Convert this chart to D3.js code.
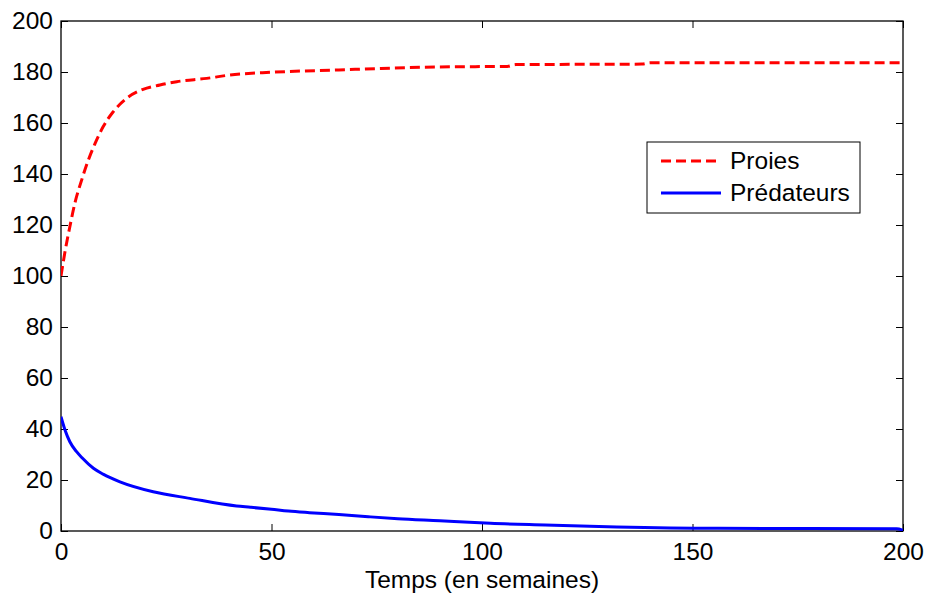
<!DOCTYPE html>
<html>
<head>
<meta charset="utf-8">
<script src="https://cdn.jsdelivr.net/npm/d3@7"></script>
<style>
  body { margin: 0; background: #fff; }
  svg text { font-family: "Liberation Sans", Arial, sans-serif; fill: #000; }
</style>
</head>
<body>
<svg id="chart"></svg>
<script>
// values
const tProies = [0, 1, 2.1, 3.3, 4.9, 6.5, 8.1, 10, 12.4, 15.6, 19.5, 23.5, 27.5, 34.6, 40, 50, 66, 76, 90, 106, 108, 138, 140, 200];
const proies = [100, 110, 119.3, 128.6, 137.6, 145.5, 152, 158.5, 164.4, 169.7, 173.2, 174.9, 176.2, 177.5, 178.8, 179.9, 180.8, 181.4, 182, 182.2, 182.9, 183.1, 183.6, 183.6];

const tPredateurs = [0, 0.95, 2.1, 3.7, 5, 7.7, 10, 14, 21.9, 30.6, 41.7, 45, 50, 54, 59, 66, 73, 80, 90, 97, 102, 115, 132, 156, 198.5, 200];
const predateurs = [44.8, 39.6, 35, 31.1, 28.7, 24.6, 22.3, 19.3, 15.4, 12.8, 9.8, 9.3, 8.5, 7.8, 7.2, 6.5, 5.6, 4.8, 4, 3.4, 3.0, 2.35, 1.6, 1.05, 0.9, 0.3];

const xTicks = [0, 50, 100, 150, 200];
const yTicks = [0, 20, 40, 60, 80, 100, 120, 140, 160, 180, 200];
const seriesNames = ["Proies", "Prédateurs"];
const xLabel = "Temps (en semaines)";

const width = 928, height = 599;
const margin = {left: 61, right: 25, top: 21, bottom: 68};
const plotW = width - margin.left - margin.right;
const plotH = height - margin.top - margin.bottom;

const svg = d3.select("#chart").attr("width", width).attr("height", height);

const xScale = d3.scaleLinear().domain([0, 200]).range([0, plotW]);
const yScale = d3.scaleLinear().domain([0, 200]).range([plotH, 0]);

const g = svg.append("g").attr("transform", `translate(${margin.left},${margin.top})`);

g.append("clipPath").attr("id", "clip")
  .append("rect").attr("width", plotW).attr("height", plotH);

// axes, ticks inside like matlab
const fontSize = 24.5;
const xAxis = d3.axisBottom(xScale).tickValues(xTicks).tickSize(-7).tickPadding(12);
const yAxis = d3.axisLeft(yScale).tickValues(yTicks).tickSize(-7).tickPadding(8);
const xAxisTop = d3.axisTop(xScale).tickValues(xTicks).tickSize(-7).tickFormat("");
const yAxisRight = d3.axisRight(yScale).tickValues(yTicks).tickSize(-7).tickFormat("");

const styleAxis = sel => {
  sel.select(".domain").remove();
  sel.selectAll("line").attr("stroke", "#000");
  sel.selectAll("text").style("font-size", fontSize + "px")
    .style("font-family", "'Liberation Sans', Arial, sans-serif");
};

g.append("g").attr("transform", `translate(0,${plotH})`).call(xAxis).call(styleAxis);
g.append("g").call(yAxis).call(styleAxis);
g.append("g").call(xAxisTop).call(styleAxis);
g.append("g").attr("transform", `translate(${plotW},0)`).call(yAxisRight).call(styleAxis);

g.append("rect")
  .attr("width", plotW).attr("height", plotH)
  .attr("fill", "none").attr("stroke", "#000").attr("stroke-width", 1.3);

const line = d3.line()
  .curve(d3.curveMonotoneX)
  .x(d => xScale(d[0]))
  .y(d => yScale(d[1]));

const proiesData = tProies.map((t, i) => [t, proies[i]]);
const predData = tPredateurs.map((t, i) => [t, predateurs[i]]);

g.append("path")
  .datum(predData)
  .attr("clip-path", "url(#clip)")
  .attr("fill", "none").attr("stroke", "#0000ff").attr("stroke-width", 3)
  .attr("d", line);

g.append("path")
  .datum(proiesData)
  .attr("clip-path", "url(#clip)")
  .attr("fill", "none").attr("stroke", "#ff0000").attr("stroke-width", 3)
  .attr("stroke-dasharray", "10,5")
  .attr("d", line);

// x label
svg.append("text")
  .attr("x", margin.left + plotW / 2)
  .attr("y", 588)
  .attr("text-anchor", "middle")
  .style("font-size", fontSize + "px")
  .text(xLabel);

// legend
const legend = svg.append("g").attr("transform", "translate(647,142)");
legend.append("rect")
  .attr("width", 213).attr("height", 71)
  .attr("fill", "#fff").attr("stroke", "#000").attr("stroke-width", 1);
const legendRows = [
  {name: seriesNames[0], color: "#ff0000", dash: "10,5", y: 19},
  {name: seriesNames[1], color: "#0000ff", dash: null, y: 51}
];
legendRows.forEach(r => {
  legend.append("line")
    .attr("x1", 14).attr("x2", 74).attr("y1", r.y).attr("y2", r.y)
    .attr("stroke", r.color).attr("stroke-width", 3)
    .attr("stroke-dasharray", r.dash);
  legend.append("text")
    .attr("x", 83).attr("y", r.y + 8)
    .style("font-size", fontSize + "px")
    .text(r.name);
});
</script>
</body>
</html>
